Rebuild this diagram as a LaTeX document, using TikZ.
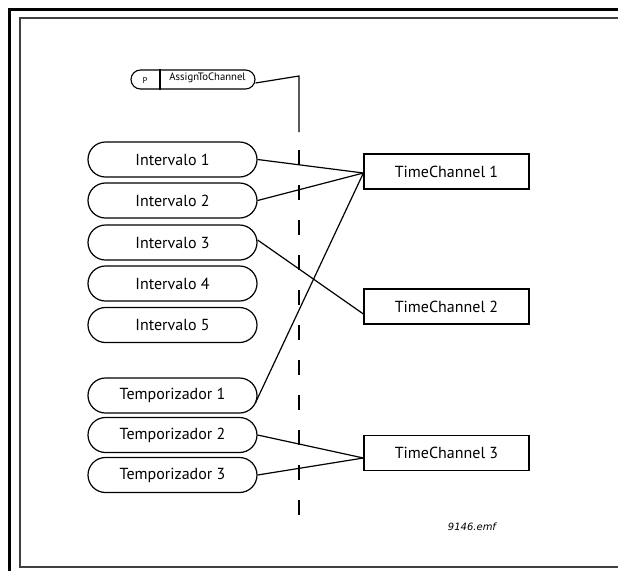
\documentclass[tikz,border=0pt]{standalone}
\usepackage{fontspec}
\setmainfont{PT Sans}
\newfontfamily\emffont{DejaVu Sans}
\usetikzlibrary{shapes.misc,calc}
\tikzset{
  pill/.style={rounded rectangle, draw, line width=1.2pt, minimum width=169pt, minimum height=35pt, inner sep=0pt, font=\fontsize{16}{18}\selectfont},
  chbox/.style={rectangle, draw, line width=1.2pt, minimum width=165pt, minimum height=35pt, inner sep=0pt, font=\fontsize{16}{18}\selectfont},
  conn/.style={line width=1.2pt},
  frameouter/.style={line width=3pt, black},
  frameinner/.style={line width=1.5pt, black!75},
}
\begin{document}
\begin{tikzpicture}[x=1pt,y=-1pt]
\useasboundingbox (0,0) rectangle (618,571);
% frames
\draw[frameouter] (618,9.5) -- (9.5,9.5) -- (9.5,571);
\draw[frameinner] (618,18) -- (20,18) -- (20,567) -- (618,567);

% parameter pill
\node[rounded rectangle, draw, line width=1.1pt, minimum width=124pt, minimum height=19pt, inner sep=0pt] (A) at (193,79.5) {};
\draw[line width=1.1pt] ([xshift=-33pt]A.north) -- ([xshift=-33pt]A.south);
\node[font=\fontsize{8.5}{10}\selectfont, inner sep=0pt] (Ap) at (145,80.5) {P};
\node[font=\fontsize{10.7}{12}\selectfont, inner sep=0pt] (An) at (207.5,77.5) {AssignToChannel};

% left nodes
\node[pill] (I1) at (172.5,159.5) {Intervalo 1};
\node[pill] (I2) at (172.5,200.5) {Intervalo 2};
\node[pill] (I3) at (172.5,242.5) {Intervalo 3};
\node[pill] (I4) at (172.5,283.5) {Intervalo 4};
\node[pill] (I5) at (172.5,325) {Intervalo 5};
\node[pill] (T1) at (172.5,395.5) {Temporizador 1};
\node[pill] (T2) at (172.5,435) {Temporizador 2};
\node[pill] (T3) at (172.5,475) {Temporizador 3};

% channel boxes
\node[chbox] (C1) at (446.5,171.5) {TimeChannel 1};
\node[chbox] (C2) at (446.5,306.5) {TimeChannel 2};
\node[chbox] (C3) at (446.5,453) {TimeChannel 3};

% vertical separator
\coordinate (V0) at (299,76);
\coordinate (V1) at (299,132);
\coordinate (V2) at (299,150);
\coordinate (V3) at (299,515);
\draw[conn] ([yshift=-3.5pt]A.east) -- (V0) -- (V1);
\draw[conn, dash pattern=on 15pt off 20pt] (V2) -- (V3);

% connectors
\draw[conn] (I1.east) -- ([yshift=-1.5pt]C1.west);
\draw[conn] (I2.east) -- ([yshift=-1.5pt]C1.west);
\draw[conn] ([yshift=2.5pt]I3.east) -- ([yshift=-7.5pt]C2.west);
\draw[conn] ([xshift=-2pt,yshift=-7pt]T1.east) -- ([yshift=-1.5pt]C1.west);
\draw[conn] (T2.east) -- ([yshift=-5pt]C3.west);
\draw[conn] (T3.east) -- ([yshift=-5pt]C3.west);

% file label
\node[font=\emffont\itshape\fontsize{10}{12}\selectfont, inner sep=0pt] (F) at (472,527) {9146.emf};
\end{tikzpicture}
\end{document}
